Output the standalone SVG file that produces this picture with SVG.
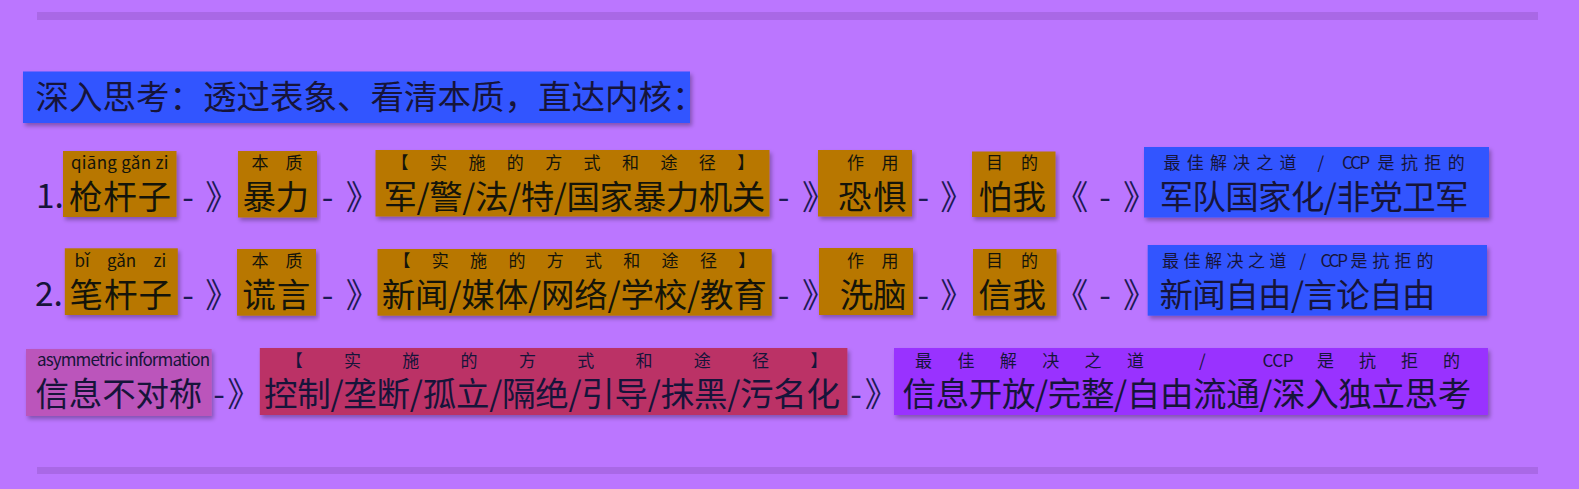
<svg xmlns="http://www.w3.org/2000/svg" width="1579" height="489" viewBox="0 0 1579 489">
<defs>
<filter id="sh" x="-5%" y="-10%" width="110%" height="130%">
<feDropShadow dx="2" dy="3" stdDeviation="2" flood-color="#000" flood-opacity="0.3"/>
</filter>
</defs>
<style>
text{font-family:"Noto Sans CJK SC","Noto Sans",sans-serif;fill:#16143a}
.m{font-size:33.5px}
.s{font-size:17px}
.c{font-size:33.5px;text-anchor:middle;fill:#1e1a55}
.brown{fill:#B87700;filter:url(#sh)}
.blue{fill:#3355FF;filter:url(#sh)}
.pink{fill:#BB55BB;filter:url(#sh)}
.red{fill:#BB3366;filter:url(#sh)}
.vio{fill:#9933FF;filter:url(#sh)}
.bar{fill:#A968E6}
.dk{fill:#14140a}
</style>
<rect width="1579" height="489" fill="#BB76FF"/>
<rect class="bar" x="37" y="12" width="1501" height="8"/>
<rect class="bar" x="37" y="467" width="1501" height="7"/>

<g id="title">
<rect class="blue" x="23" y="71.5" width="667" height="51.5"/>
<text class="m" x="35.5" y="109" font-size="33">深入思考：透过表象、看清本质，直达内核：</text>
</g>

<g id="labels">
<text class="m" x="36" y="208">1.</text>
<text class="m" x="35" y="306">2.</text>
</g>

<!-- Row 1 -->
<g id="r1n1">
<rect class="brown" x="63" y="151" width="113.5" height="66"/>
<text class="s dk" x="71" y="168.5" textLength="97.5" lengthAdjust="spacing">qiāng gǎn zi</text>
<text class="m dk" x="69" y="209" textLength="102" lengthAdjust="spacing">枪杆子</text>
</g>
<g id="r1n2">
<rect class="brown" x="238" y="151" width="79" height="66.5"/>
<text class="s dk" x="251.5 285.5" y="168.5">本质</text>
<text class="m dk" x="242.5" y="209" textLength="66.5" lengthAdjust="spacing">暴力</text>
</g>
<g id="r1n3">
<rect class="brown" x="375.5" y="150" width="394" height="66.5"/>
<text class="s dk" x="391.6" y="168.5" letter-spacing="21.4">【实施的方式和途径】</text>
<text class="m dk" x="383.5" y="209" textLength="381.8" lengthAdjust="spacing">军/警/法/特/国家暴力机关</text>
</g>
<g id="r1n4">
<rect class="brown" x="818" y="150" width="94" height="66.5"/>
<text class="s dk" x="847 881.5" y="168.5">作用</text>
<text class="m dk" x="838" y="209" textLength="68.5" lengthAdjust="spacing">恐惧</text>
</g>
<g id="r1n5">
<rect class="brown" x="972" y="151.5" width="83.5" height="65.5"/>
<text class="s dk" x="986 1021" y="168.5">目的</text>
<text class="m dk" x="978.5" y="209" textLength="67.5" lengthAdjust="spacing">怕我</text>
</g>
<g id="r1n6">
<rect class="blue" x="1144" y="147" width="345" height="70.5"/>
<text class="s" y="168.5"><tspan x="1163.5" letter-spacing="6.2">最佳解决之道</tspan><tspan x="1317.5">/</tspan><tspan x="1342" textLength="28" lengthAdjust="spacing">CCP</tspan><tspan x="1377.5" letter-spacing="6.4">是抗拒的</tspan></text>
<text class="m" x="1159.5" y="209" textLength="309" lengthAdjust="spacing">军队国家化/非党卫军</text>
</g>

<!-- Row 2 -->
<g id="r2n1">
<rect class="brown" x="64.8" y="248.3" width="113" height="66.7"/>
<text class="s dk" y="266.5"><tspan x="74.5">bǐ</tspan><tspan x="107">gǎn</tspan><tspan x="153.5">zi</tspan></text>
<text class="m dk" x="69.5" y="307" textLength="102.5" lengthAdjust="spacing">笔杆子</text>
</g>
<g id="r2n2">
<rect class="brown" x="237" y="249" width="79" height="66.7"/>
<text class="s dk" x="251.5 285.5" y="266.5">本质</text>
<text class="m dk" x="242.3" y="307" textLength="68" lengthAdjust="spacing">谎言</text>
</g>
<g id="r2n3">
<rect class="brown" x="377.5" y="249" width="394.2" height="66.7"/>
<text class="s dk" x="393.5" y="266.5" letter-spacing="21.3">【实施的方式和途径】</text>
<text class="m dk" x="381.8" y="307" textLength="385" lengthAdjust="spacing">新闻/媒体/网络/学校/教育</text>
</g>
<g id="r2n4">
<rect class="brown" x="819" y="248" width="94" height="67"/>
<text class="s dk" x="847 881.5" y="266.5">作用</text>
<text class="m dk" x="839.8" y="307" textLength="66.7" lengthAdjust="spacing">洗脑</text>
</g>
<g id="r2n5">
<rect class="brown" x="973" y="249" width="83.5" height="66.7"/>
<text class="s dk" x="986 1021" y="266.5">目的</text>
<text class="m dk" x="978.5" y="307" textLength="67.5" lengthAdjust="spacing">信我</text>
</g>
<g id="r2n6">
<rect class="blue" x="1147.7" y="245" width="339.3" height="70.7"/>
<text class="s" y="266.5"><tspan x="1162" letter-spacing="4.5">最佳解决之道</tspan><tspan x="1299.5">/</tspan><tspan x="1320.5" textLength="27.5" lengthAdjust="spacing">CCP</tspan><tspan x="1350.5" letter-spacing="5">是抗拒的</tspan></text>
<text class="m" x="1159.5" y="307" textLength="276" lengthAdjust="spacing">新闻自由/言论自由</text>
</g>

<!-- Row 3 -->
<g id="r3n1">
<rect class="pink" x="26" y="349" width="185.7" height="67"/>
<text class="s" x="37" y="366" font-size="15.5" textLength="173" lengthAdjust="spacing">asymmetric information</text>
<text class="m" x="35.5" y="406" textLength="166.8" lengthAdjust="spacing">信息不对称</text>
</g>
<g id="r3n2">
<rect class="red" x="259.8" y="348" width="587.6" height="67"/>
<text class="s" x="285.7" y="367" letter-spacing="41.3">【实施的方式和途径】</text>
<text class="m" x="264" y="406" textLength="576" lengthAdjust="spacing">控制/垄断/孤立/隔绝/引导/抹黑/污名化</text>
</g>
<g id="r3n3">
<rect class="vio" x="894" y="348" width="594" height="67"/>
<text class="s" y="367"><tspan x="915" letter-spacing="25.4">最佳解决之道</tspan><tspan x="1199">/</tspan><tspan x="1262.5" textLength="31" lengthAdjust="spacing">CCP</tspan><tspan x="1317" letter-spacing="25">是抗拒的</tspan></text>
<text class="m" x="902.5" y="406" textLength="568.7" lengthAdjust="spacing">信息开放/完整/自由流通/深入独立思考</text>
</g>

<g id="connectors">
<text class="c" x="188 222" y="209">-》</text>
<text class="c" x="327.5 362.5" y="209">-》</text>
<text class="c" x="783.5 818.7" y="209">-》</text>
<text class="c" x="923.4 957" y="209">-》</text>
<text class="c" x="1071.5 1105 1139.7" y="209">《-》</text>
<text class="c" x="188 222" y="307">-》</text>
<text class="c" x="327.5 362.5" y="307">-》</text>
<text class="c" x="783.5 818.7" y="307">-》</text>
<text class="c" x="923.4 957" y="307">-》</text>
<text class="c" x="1071.5 1105 1139.7" y="307">《-》</text>
<text class="c" x="219 244" y="406">-》</text>
<text class="c" x="856 881.5" y="406">-》</text>
</g>
</svg>
